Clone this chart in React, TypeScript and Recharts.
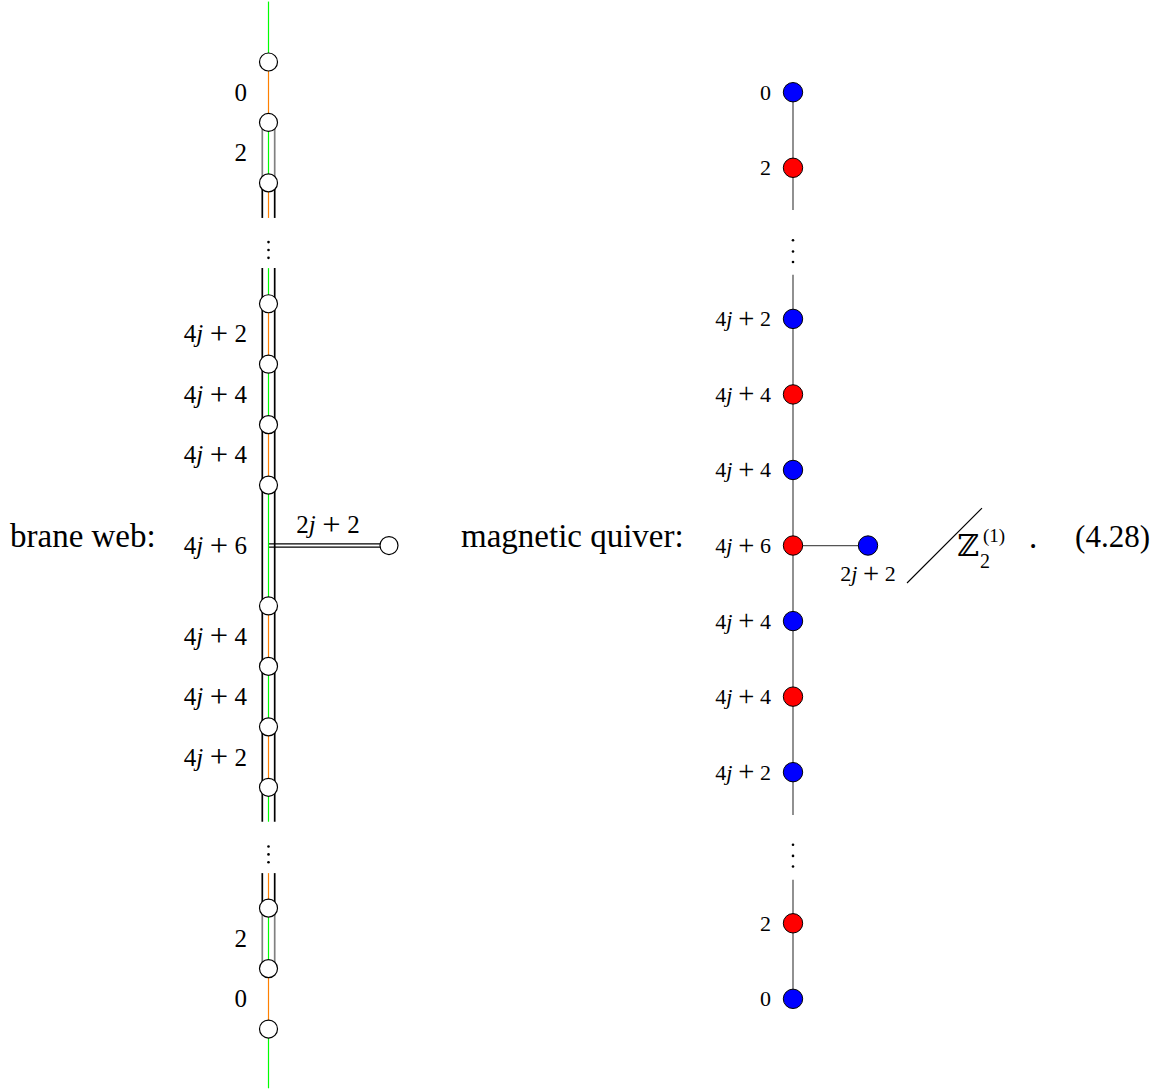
import { ComposedChart, Scatter, XAxis, YAxis } from "recharts";

const W = 1164;
const H = 1091;
// vertical unit = one slot of the brane web (distance between two 7-branes)
const LEVEL_TOP = -1.026;
const LEVEL_BOTTOM = 17.025;

const GREEN = "#00ff00";
const ORANGE = "#ff8000";
const GREY = "#808080";
const SERIF = "'Liberation Serif', 'Times New Roman', serif";

// ---------- brane web ----------
const BRANE_X = 268.5;
const BRANE_OFF = 6.2;
const braneNodeLevels = [0, 1, 2, 4, 5, 6, 7, 9, 10, 11, 12, 14, 15, 16];
const braneJunctionLevel = 8;
const braneFlavourX = 389;
const braneLabelLevels = [0.5, 1.5, 4.5, 5.5, 6.5, 8, 9.5, 10.5, 11.5, 14.5, 15.5];
const braneLabelTexts = ["0", "2", "4j + 2", "4j + 4", "4j + 4", "4j + 6", "4j + 4", "4j + 4", "4j + 2", "2", "0"];
const braneCentre: [number, number, string][] = [
  [-1.0, 0, GREEN],
  [0, 1, ORANGE],
  [1, 2, GREEN],
  [2, 2.58, ORANGE],
  [3.41, 4, GREEN],
  [4, 5, ORANGE],
  [5, 6, GREEN],
  [6, 7, ORANGE],
  [7, 9, GREEN],
  [9, 10, ORANGE],
  [10, 11, GREEN],
  [11, 12, ORANGE],
  [12, 12.57, GREEN],
  [13.42, 14, ORANGE],
  [14, 15, GREEN],
  [15, 16, ORANGE],
  [16, 16.98, GREEN],
];
const braneBlackPairs: [number, number][] = [
  [2, 2.58],
  [3.41, 12.57],
  [13.42, 14],
];
const braneGreyPairs: [number, number][] = [
  [1, 2],
  [14, 15],
];
const braneGapLevels = [3, 13];
const braneDotOffsets = [-0.02, 0.11, 0.24];

// ---------- magnetic quiver ----------
const QUIVER_X = 793;
const quiverSteps = [0, 1, 3, 4, 5, 6, 7, 8, 9, 11, 12];
const quiverColours = ["#0000ff", "#ff0000", "#0000ff", "#ff0000", "#0000ff", "#ff0000", "#0000ff", "#ff0000", "#0000ff", "#ff0000", "#0000ff"];
const quiverLabels = ["0", "2", "4j + 2", "4j + 4", "4j + 4", "4j + 6", "4j + 4", "4j + 4", "4j + 2", "2", "0"];
const quiverFlavourX = 868;
const quiverFlavourLabel = "2j + 2";
const quiverEdges: [number, number][] = [
  [0.5, 2.45],
  [3.52, 12.46],
  [13.53, 15.5],
];
const quiverGapSteps = [2, 10];
const quiverDotOffsets = [-0.05, 0.135, 0.31];
const stepToLevel = (q: number) => 0.5 + 1.25 * q;

type TextItem = {
  x: number;
  y: number;
  text: string;
  size: number;
  anchor: "start" | "middle" | "end";
  math?: boolean;
  family?: string;
};

const textItems: TextItem[] = [
  ...braneLabelLevels.map((l, i) => ({ x: 247, y: l, text: braneLabelTexts[i], size: 25, anchor: "end" as const, math: true })),
  ...quiverSteps.map((q, i) => ({ x: 771, y: stepToLevel(q), text: quiverLabels[i], size: 22, anchor: "end" as const, math: true })),
  { x: 328, y: 7.66, text: "2j + 2", size: 25, anchor: "middle", math: true },
  { x: quiverFlavourX, y: 8.47, text: quiverFlavourLabel, size: 22, anchor: "middle", math: true },
  { x: 10, y: 7.84, text: "brane web:", size: 33, anchor: "start" },
  { x: 461, y: 7.84, text: "magnetic quiver:", size: 33, anchor: "start" },
  { x: 957, y: 8.0, text: "ℤ", size: 30, anchor: "start", family: "'DejaVu Serif', serif" },
  { x: 980, y: 8.26, text: "2", size: 20, anchor: "start" },
  { x: 983, y: 7.83, text: "(1)", size: 19, anchor: "start" },
  { x: 1033, y: 7.85, text: ".", size: 33, anchor: "middle" },
  { x: 1150, y: 7.85, text: "(4.28)", size: 31, anchor: "end" },
];

// math-style text: italic j, wide plus sign with medium spacing
function renderMath(text: string, size: number) {
  const out: any[] = [];
  let gap = 0;
  let shift = 0;
  const drop = size * 0.07;
  text.split("").forEach((c, i) => {
    if (c === " ") {
      gap = size * 0.26;
      return;
    }
    const isPlus = c === "+";
    const dy = (isPlus ? drop : 0) - shift;
    out.push(
      <tspan
        key={i}
        dx={gap || undefined}
        dy={dy || undefined}
        fontStyle={c === "j" ? "italic" : undefined}
        fontSize={isPlus ? size * 1.3 : undefined}
      >
        {c}
      </tspan>
    );
    shift = isPlus ? drop : 0;
    gap = 0;
  });
  return out;
}

const TextShape = (props: any) => {
  const { cx, cy, payload } = props;
  const t = payload as TextItem;
  return (
    <text
      x={cx}
      y={cy + t.size * 0.34}
      textAnchor={t.anchor}
      fontSize={t.size}
      fontFamily={t.family || SERIF}
      fill="#000"
    >
      {t.math ? renderMath(t.text, t.size) : t.text}
    </text>
  );
};

const Blank = () => <g />;

const braneNode = (props: any) => (
  <circle cx={props.cx} cy={props.cy} r={9} fill="#fff" stroke="#000" strokeWidth={1.2} />
);

const quiverNode = (props: any) => (
  <circle cx={props.cx} cy={props.cy} r={9.7} fill={props.payload.c} stroke="#000" strokeWidth={1} />
);

const dotShape = (props: any) => <circle cx={props.cx} cy={props.cy} r={1.3} fill="#000" />;

function seg(key: string, x1: number, y1: number, x2: number, y2: number, stroke: string, width: number) {
  return (
    <Scatter
      key={key}
      data={[
        { x: x1, y: y1 },
        { x: x2, y: y2 },
      ]}
      line={{ stroke, strokeWidth: width }}
      shape={Blank}
      isAnimationActive={false}
    />
  );
}

export default function App() {
  const braneCircles = [
    ...braneNodeLevels.map((l) => ({ x: BRANE_X, y: l })),
    { x: braneFlavourX, y: braneJunctionLevel },
  ];
  const quiverCircles = [
    ...quiverSteps.map((q, i) => ({ x: QUIVER_X, y: stepToLevel(q), c: quiverColours[i] })),
    { x: quiverFlavourX, y: stepToLevel(6), c: "#0000ff" },
  ];
  const dots = [
    ...braneGapLevels.flatMap((l) => braneDotOffsets.map((o) => ({ x: BRANE_X, y: l + o }))),
    ...quiverGapSteps.flatMap((q) => quiverDotOffsets.map((o) => ({ x: QUIVER_X, y: stepToLevel(q) + o }))),
  ];

  return (
    <div style={{ position: "absolute", left: 0, top: 0, width: W, height: H, background: "#fff" }}>
      <ComposedChart width={W} height={H} margin={{ top: 0, right: 0, bottom: 0, left: 0 }}>
        <XAxis type="number" dataKey="x" domain={[0, W]} allowDataOverflow hide />
        <YAxis type="number" dataKey="y" domain={[LEVEL_TOP, LEVEL_BOTTOM]} reversed allowDataOverflow hide />

        {/* flavour leg of the brane web: double line */}
        {seg("h-black", BRANE_X, braneJunctionLevel, braneFlavourX, braneJunctionLevel, "#000", 4.6)}
        {seg("h-white", BRANE_X, braneJunctionLevel, braneFlavourX, braneJunctionLevel, "#fff", 2)}

        {braneBlackPairs.flatMap(([a, b], i) => [
          seg(`bl${i}`, BRANE_X - BRANE_OFF, a, BRANE_X - BRANE_OFF, b, "#000", 1.7),
          seg(`br${i}`, BRANE_X + BRANE_OFF, a, BRANE_X + BRANE_OFF, b, "#000", 1.7),
        ])}
        {braneGreyPairs.flatMap(([a, b], i) => [
          seg(`gl${i}`, BRANE_X - BRANE_OFF, a, BRANE_X - BRANE_OFF, b, GREY, 1.7),
          seg(`gr${i}`, BRANE_X + BRANE_OFF, a, BRANE_X + BRANE_OFF, b, GREY, 1.7),
        ])}
        {braneCentre.map(([a, b, c], i) => seg(`c${i}`, BRANE_X, a, BRANE_X, b, c, 1.2))}

        {quiverEdges.map(([a, b], i) => seg(`q${i}`, QUIVER_X, a, QUIVER_X, b, "#555", 1.3))}
        {seg("qh", QUIVER_X, stepToLevel(6), quiverFlavourX, stepToLevel(6), "#555", 1.3)}
        {seg("diag", 907, 8.62, 982, 7.38, "#000", 1.1)}

        <Scatter data={braneCircles} shape={braneNode} isAnimationActive={false} />
        <Scatter data={quiverCircles} shape={quiverNode} isAnimationActive={false} />
        <Scatter data={dots} shape={dotShape} isAnimationActive={false} />
        <Scatter data={textItems} shape={TextShape} isAnimationActive={false} />
      </ComposedChart>
    </div>
  );
}
